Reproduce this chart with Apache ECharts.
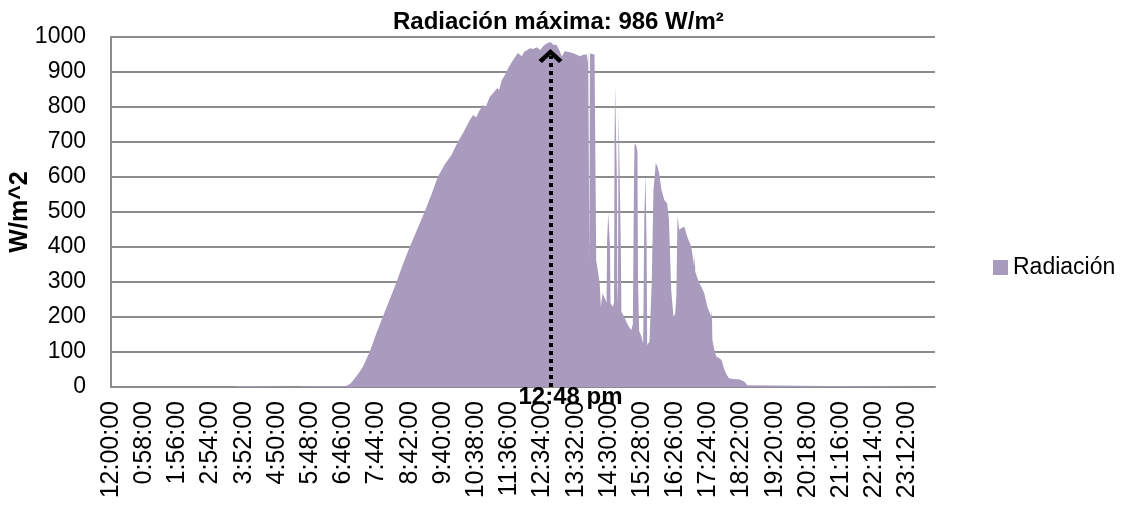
<!DOCTYPE html>
<html>
<head>
<meta charset="utf-8">
<script src="https://cdn.jsdelivr.net/npm/echarts@6/dist/echarts.min.js"></script>
<style>
  html, body { margin: 0; padding: 0; background: #fff; }
  #chart { width: 1122px; height: 506px; }
</style>
</head>
<body>
<div id="chart"></div>
<script>
const echarts = window.echarts

// minutos desde medianoche
const minutes = [
  0, 213, 216, 228, 231, 330, 335, 395, 407, 414,
  420, 426, 433, 440, 452, 463, 475, 487, 499, 510,
  522, 535, 548, 560, 571, 583, 595, 606, 616, 627,
  633, 638, 644, 650, 655, 662, 668, 675, 678, 683,
  688, 694, 701, 706, 711, 714, 718, 722, 727, 732,
  738, 744, 750, 756, 762, 768, 773, 779, 784, 788,
  793, 800, 807, 813, 820, 826, 832, 833, 834, 835,
  836, 837, 839, 845, 847, 848, 851, 854, 856, 859,
  864, 866, 867, 869, 870, 872, 873, 877, 879, 880,
  881, 883, 884, 885, 886, 887, 888, 890, 891, 892,
  894, 897, 902, 909, 912, 914, 915, 918, 920, 921,
  923, 927, 930, 931, 932, 934, 935, 936, 937, 941,
  945, 948, 952, 955, 958, 962, 967, 972, 975, 976,
  979, 983, 986, 988, 990, 993, 998, 1002, 1007, 1014,
  1016, 1019, 1020, 1021, 1023, 1028, 1032, 1037, 1042, 1047,
  1049, 1050, 1051, 1055, 1058, 1063, 1067, 1072, 1076, 1080,
  1090, 1098, 1107, 1112, 1115, 1439
]

// radiación W/m2
const radiacion = [
  0, 0, 3, 3, 0, 0, 2, 3, 2, 5,
  12, 25, 40, 57, 100, 150, 201, 250, 300, 350,
  400, 450, 500, 550, 600, 635, 663, 700, 728, 763,
  777, 770, 790, 806, 800, 829, 840, 854, 848, 877,
  890, 911, 930, 942, 954, 950, 945, 958, 962, 968,
  966, 971, 963, 975, 982, 986, 978, 977, 960, 944,
  959, 957, 954, 950, 945, 950, 949, 925, 953, 953,
  363, 953, 953, 950, 949, 360, 330, 297, 229, 267,
  250, 240, 420, 497, 497, 400, 240, 229, 240, 700,
  858, 858, 600, 235, 300, 791, 791, 791, 400, 215,
  210, 200, 181, 162, 180, 600, 696, 690, 672, 300,
  160, 144, 124, 128, 480, 611, 611, 400, 120, 130,
  300, 560, 640, 630, 610, 563, 534, 524, 480, 429,
  277, 201, 210, 260, 487, 449, 455, 458, 429, 401,
  380, 344, 380, 330, 320, 297, 285, 267, 229, 210,
  201, 220, 134, 100, 87, 82, 77, 49, 35, 25,
  22, 22, 15, 5, 0, 0
]

// etiquetas del eje x (cada 58 min)
const xTickLabels = [
  '12:00:00', '0:58:00', '1:56:00', '2:54:00', '3:52:00', '4:50:00', '5:48:00', '6:46:00',
  '7:44:00', '8:42:00', '9:40:00', '10:38:00', '11:36:00', '12:34:00', '13:32:00', '14:30:00',
  '15:28:00', '16:26:00', '17:24:00', '18:22:00', '19:20:00', '20:18:00', '21:16:00', '22:14:00',
  '23:12:00'
]

const maxMinute = 768
const maxValue = 986

const font = 'Liberation Sans, Arial, sans-serif'
const gridColor = '#8c8c8c'

let myChart = echarts.init(document.getElementById('chart'))
let option = {
  animation: false,
  title: {
    text: 'Radiación máxima: ' + maxValue + ' W/m²',
    left: 388,
    top: 5,
    textStyle: { fontFamily: font, fontSize: 24, fontWeight: 'bold', color: '#000' }
  },
  legend: {
    data: ['Radiación'],
    left: 988,
    top: 251,
    icon: 'rect',
    itemWidth: 15,
    itemHeight: 15,
    textStyle: { fontFamily: font, fontSize: 23, color: '#000' }
  },
  grid: { left: 111, right: 187, top: 37, bottom: 119, outerBoundsMode: 'none' },
  xAxis: {
    type: 'value',
    min: 0,
    max: 1440,
    interval: 58,
    splitLine: { show: false },
    axisTick: { show: false },
    axisLine: { lineStyle: { color: gridColor, width: 2 } },
    axisLabel: {
      rotate: 90,
      margin: 14,
      showMaxLabel: false,
      fontFamily: font,
      fontSize: 25,
      color: '#000',
      formatter: function (v) {
        return v % 58 === 0 ? (xTickLabels[v / 58] || '') : ''
      }
    }
  },
  yAxis: {
    type: 'value',
    min: 0,
    max: 1000,
    interval: 100,
    name: 'W/m^2',
    nameLocation: 'middle',
    nameGap: 78,
    nameMoveOverlap: false,
    nameTextStyle: { fontFamily: font, fontSize: 25, fontWeight: 'bold', color: '#000' },
    axisLine: { show: true, lineStyle: { color: gridColor, width: 2 } },
    axisTick: { show: false },
    splitLine: { lineStyle: { color: gridColor, width: 2 } },
    axisLabel: {
      margin: 25,
      fontFamily: font,
      fontSize: 23,
      color: '#000',
      formatter: function (v) { return String(v) }
    }
  },
  series: [{
    name: 'Radiación',
    type: 'line',
    data: minutes.map((m, i) => [m, radiacion[i]]),
    showSymbol: false,
    itemStyle: { color: '#a89bbd' },
    lineStyle: { width: 0 },
    areaStyle: { color: '#a89bbd', opacity: 1 },
    markLine: {
      silent: true,
      symbol: ['none', 'path://M0,11 L12,0 L24,11 L20.5,14 L12,6 L3.5,14 Z'],
      symbolSize: [24, 14],
      lineStyle: { color: '#000', width: 4, type: [4, 4], cap: 'butt' },
      itemStyle: { color: '#000' },
      label: { show: false },
      data: [[{ coord: [maxMinute, 0] }, { coord: [maxMinute, 946] }]]
    },
    markPoint: {
      silent: true,
      symbol: 'circle',
      symbolSize: 0,
      label: {
        show: true,
        position: 'inside',
        offset: [20, 10],
        formatter: '12:48 pm',
        fontFamily: font,
        fontSize: 24,
        fontWeight: 'bold',
        color: '#000'
      },
      data: [{ coord: [maxMinute, 0] }]
    }
  }]
}
myChart.setOption(option)
</script>
</body>
</html>
